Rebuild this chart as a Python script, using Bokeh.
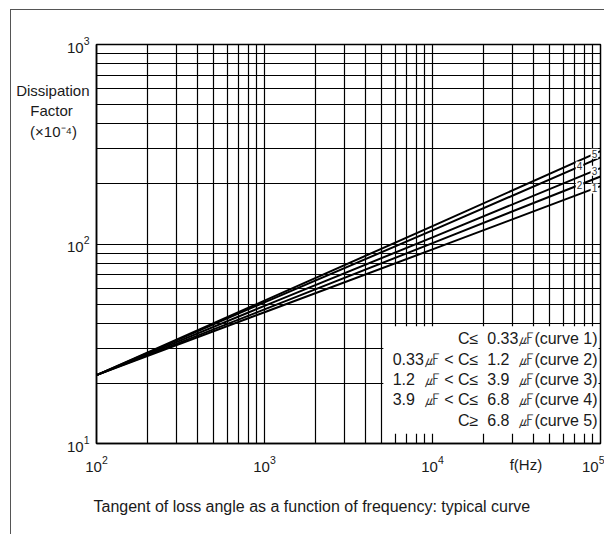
import numpy as np
from bokeh.plotting import figure
from bokeh.models import Range1d, FixedTicker, Label, BoxAnnotation, Title
from bokeh.embed import file_html
from bokeh.resources import INLINE

# ---- data ----
freq = [1e2, 1e3, 1e4, 1e5]
curve1 = [22, 45.5, 94, 195]
curve2 = [22, 47, 101, 218]
curve3 = [22, 49, 108, 240]
curve4 = [22, 51, 117, 272]
curve5 = [22, 52, 123, 292]
curves = [curve1, curve2, curve3, curve4, curve5]
curve_names = ["1", "2", "3", "4", "5"]
label_freq = [92000, 75000, 92000, 75000, 92000]

x_ticks = [1e2, 1e3, 1e4, 1e5]
y_ticks = [1e1, 1e3, 1e2]
x_minor = [m * 10 ** k for k in range(2, 5) for m in range(2, 10)]
y_minor = [m * 10 ** k for k in range(1, 3) for m in range(2, 10)]

NB = "\u00a0"
legend_rows = [
    "C≤" + NB + " 0.33㎌(curve 1)",
    "0.33㎌ < C≤" + NB + " 1.2" + NB + " ㎌(curve 2)",
    "1.2" + NB + " ㎌ < C≤" + NB + " 3.9" + NB + " ㎌(curve 3)",
    "3.9" + NB + " ㎌ < C≤" + NB + " 6.8" + NB + " ㎌(curve 4)",
    "C≥" + NB + " 6.8" + NB + " ㎌(curve 5)",
]
# y-axis title (three centred lines), placed as an extra label on the y axis
ylabel_lines = ["Dissipation", NB * 4 + "Factor" + NB * 4, NB * 3 + "(×10⁻⁴)" + NB * 3]
ylabel_pos = 466
xlabel = "f(Hz)"
xlabel_pos = 36000
caption = "Tangent of loss angle as a function of frequency: typical curve"

FONT = "Liberation Sans"
TXT = "#1a1a1a"

p = figure(width=604, height=534, x_axis_type="log", y_axis_type="log",
           x_range=Range1d(1e2, 1e5), y_range=Range1d(1e1, 1e3),
           output_backend="svg", toolbar_location=None,
           min_border_left=96, min_border_right=4, min_border_top=44, min_border_bottom=86)
p.background_fill_color = "white"
p.border_fill_alpha = 0
# outer sheet frame (left and top edges) drawn behind the transparent canvas border
p.styles = {"background": "linear-gradient(#555555,#555555) 10px 9px / 1px 100% no-repeat, "
                          "linear-gradient(#555555,#555555) 10px 9px / 100% 1px no-repeat, white"}
p.outline_line_color = "black"
p.outline_line_width = 1.5

# extra label tick is interleaved so neighbouring ticks never share a decade
p.xaxis.ticker = FixedTicker(ticks=[x_ticks[0], xlabel_pos] + x_ticks[1:], minor_ticks=x_minor)
p.yaxis.ticker = FixedTicker(ticks=y_ticks + [ylabel_pos], minor_ticks=y_minor)
p.xaxis.major_label_overrides = {xlabel_pos: xlabel}
p.yaxis.major_label_overrides = {ylabel_pos: "\n".join(ylabel_lines)}
p.xgrid.ticker = FixedTicker(ticks=x_ticks, minor_ticks=x_minor)
p.ygrid.ticker = FixedTicker(ticks=y_ticks, minor_ticks=y_minor)
for ax in (p.xaxis, p.yaxis):
    ax.major_tick_line_color = None
    ax.minor_tick_line_color = None
    ax.axis_line_color = "black"
    ax.axis_line_width = 1.5
    ax.major_label_text_font = FONT
    ax.major_label_text_font_size = "15px"
    ax.major_label_text_color = TXT
    ax.major_label_text_line_height = 1.2
p.xaxis.major_label_standoff = 6
p.yaxis.major_label_standoff = 1

p.grid.grid_line_color = "black"
p.grid.grid_line_width = 1.2
p.grid.minor_grid_line_color = "black"
p.grid.minor_grid_line_width = 1.2

for vals in curves:
    p.line(freq, vals, line_color="black", line_width=2)

# curve number tags
for name, lf, vals in zip(curve_names, label_freq, curves):
    yv = 10 ** np.interp(np.log10(lf), np.log10(freq), np.log10(vals))
    p.add_layout(Label(x=lf, y=yv, text=name, text_align="center", text_baseline="middle",
                       text_font=FONT, text_font_size="10px", text_color="#333333",
                       background_fill_color="white", padding=1))

# legend box (white, hides grid)
p.add_layout(BoxAnnotation(left=5100, right=97300, bottom=11.2, top=38.7,
                           fill_color="white", fill_alpha=1, line_color=None))
row_y = [105, 84.5, 64, 44, 23]
for txt, ry in zip(legend_rows, row_y):
    p.add_layout(Label(x=501, y=ry, x_units="screen", y_units="screen", text=txt,
                       text_align="right", text_baseline="middle",
                       text_font=FONT, text_font_size="16px", text_color=TXT))

cap = Title(text=caption, align="left", offset=-3, standoff=40,
            text_font=FONT, text_font_size="16px", text_font_style="normal", text_color=TXT)
p.add_layout(cap, "below")

open("out.html", "w").write(file_html(p, INLINE))
